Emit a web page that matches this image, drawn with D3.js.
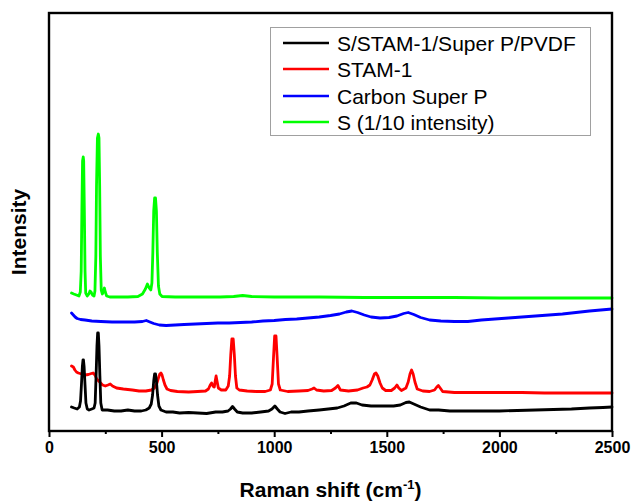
<!DOCTYPE html>
<html>
<head>
<meta charset="utf-8">
<script src="https://cdn.jsdelivr.net/npm/d3@7"></script>
<style>
  html, body { margin: 0; padding: 0; background: #fff; }
  svg { display: block; font-family: "Liberation Sans", Arial, sans-serif; }
</style>
</head>
<body>
<svg id="chart" width="632" height="502"></svg>
<script>
// Raman shift (cm-1) and intensity (a.u., offset-stacked as in the figure)
const seriesNames = ["S/STAM-1/Super P/PVDF", "STAM-1", "Carbon Super P", "S (1/10 intensity)"];
const seriesColors = ["#000000", "#ff0000", "#0000ff", "#00ff00"];

const xTicks = [0, 500, 1000, 1500, 2000, 2500];

const compositeData = [
  [100,24],[112,23],[125,22],[135,24],[140,30],[144,46],[148,64],[151,71],[153,71],[156,64],[160,46],[164,28],[170,22],
  [178,21],[190,22],[200,23],[205,28],[209,55],[213,85],[216,98],[219,98],[222,85],[226,55],[230,28],[236,21],
  [260,21],[290,20],[320,20],[350,21],[380,20],[410,20],[430,21],[445,23],[454,27],[460,36],[465,50],[469,57],[473,57],
  [477,50],[482,36],[488,25],[497,21],[520,19],[550,19],[580,18],[620,18.5],[660,18],[700,17.5],[740,19],
  [770,19],[795,20],[806,22],[815,24.5],[824,22],[836,19],[860,18],[900,18],[940,19],[975,20],[990,22],
  [1003,25],[1014,22],[1026,19],[1048,17.5],[1075,19],[1110,19],[1150,20],[1200,21],[1240,22],[1280,23],
  [1310,25],[1340,28],[1365,28],[1390,26],[1430,25],[1480,25],[1530,25],[1560,26],[1585,28.5],[1600,29],
  [1620,27],[1650,24],[1690,21],[1730,21],[1780,20],[1850,20],[1920,20],[2000,20],[2080,20.5],[2160,21],
  [2240,21.5],[2320,22],[2400,23],[2460,23.5],[2500,24]
];

const stamData = [
  [100,65],[108,64],[115,61],[122,59],[130,58],[145,57],[160,56],[175,56.5],[188,57.5],[196,58],[204,56],
  [212,52],[225,49],[238,46],[250,45],[262,46],[272,47],[282,45],[300,43],[330,42],[370,41],[400,40],
  [430,40],[455,41],[468,43],[478,47],[486,53],[492,57],[497,58],[502,56],[508,51],[515,46],[524,42],
  [540,40.5],[570,39.5],[620,39],[660,39.5],[695,40],[708,42],[716,46],[722,48],[728,45],[734,44],
  [738,50],[742,55],[746,50],[752,43],[765,41],[785,41],[796,45],[802,55],[807,76],[812,92],[818,92],[823,76],
  [828,55],[834,43],[845,41],[880,40],[920,39.5],[960,39.5],[983,41],[991,47],[997,74],[1002,95],[1008,95],
  [1013,74],[1019,47],[1027,41],[1060,39.5],[1110,40],[1150,40.5],[1168,42],[1177,43],[1188,41],
  [1220,40],[1255,40.5],[1272,43],[1283,45.5],[1294,41],[1330,40],[1370,41],[1395,43],[1412,44],
  [1425,46],[1435,51],[1445,57],[1452,58],[1460,55],[1470,48],[1480,43],[1495,40.5],[1520,40.5],
  [1535,43],[1545,46],[1553,43],[1565,40.5],[1585,43],[1595,49],[1603,57],[1610,61],[1617,57],
  [1625,49],[1635,42],[1660,40],[1690,39.5],[1712,41],[1722,44],[1729,45.5],[1737,43],[1748,39.5],
  [1800,38.5],[1900,38.5],[2000,38.5],[2100,38.5],[2200,38],[2300,38],[2400,38],[2500,38]
];

const superPData = [
  [100,118],[108,116],[116,114],[125,112.5],[140,111.5],[160,111],[190,110],[230,109.5],[280,109],
  [330,109],[380,109],[415,109.5],[432,110.5],[448,109],[465,107.5],[490,106],[520,105.5],[560,106],
  [600,106.5],[650,107],[700,107.5],[750,108],[800,108],[850,108.5],[900,109],[950,110],[1000,110.5],
  [1050,111.5],[1100,112],[1150,113],[1200,114],[1250,115.5],[1290,117],[1320,119],[1345,120],
  [1370,118.5],[1400,116],[1430,114],[1470,113],[1510,113.5],[1545,115],[1575,117.5],[1595,118.5],
  [1620,116.5],[1650,113.5],[1690,111],[1740,110],[1800,109.5],[1860,109.5],[1920,111],[1980,112],
  [2040,113],[2100,114],[2160,115],[2220,116],[2280,117],[2340,118.5],[2400,120],[2450,121],[2500,122]
];

const sulfurData = [
  [100,138],[110,137],[122,136],[133,135],[139,139],[143,160],[146,220],[149,270],[152,274],[154,270],[157,220],
  [160,160],[163,138],[170,135],[177,137],[182,140],[187,139],[193,136],[200,135],[204,140],[208,175],[211,245],
  [215,293],[219,297],[222,293],[225,245],[228,175],[232,141],[237,137],[241,139],[246,143],[250,139],[256,135],[270,134],
  [300,134],[350,134],[395,134.5],[415,137],[428,142],[437,147],[445,143],[452,141],[457,148],[461,178],
  [465,220],[469,233],[473,233],[477,220],[481,178],[486,145],[492,137],[502,134.5],[560,134],[650,134],[760,134],
  [820,134.5],[860,135.5],[900,134.5],[1000,134],[1200,134],[1400,133.5],[1600,133.5],[1800,133.5],
  [2000,133],[2200,133],[2400,133],[2500,133]
];

const allSeries = [compositeData, stamData, superPData, sulfurData];

const svg = d3.select("#chart");
const plot = {left: 49, right: 612, top: 13, bottom: 431};

const x = d3.scaleLinear().domain([0, 2500]).range([plot.left, plot.right]);
const y = d3.scaleLinear().domain([0, 418]).range([plot.bottom, plot.top]);

const line = d3.line().x(d => x(d[0])).y(d => y(d[1]));
const order = [3, 2, 1, 0];
order.forEach(i => {
  svg.append("path")
    .datum(allSeries[i])
    .attr("fill", "none")
    .attr("stroke", seriesColors[i])
    .attr("stroke-width", 2.8)
    .attr("stroke-linejoin", "round")
    .attr("stroke-linecap", "round")
    .attr("d", line);
});

// frame
svg.append("rect")
  .attr("x", plot.left).attr("y", plot.top)
  .attr("width", plot.right - plot.left).attr("height", plot.bottom - plot.top)
  .attr("fill", "none").attr("stroke", "#000").attr("stroke-width", 2.4);

// x axis (major)
const xAxis = d3.axisBottom(x).tickValues(xTicks).tickSize(6).tickPadding(5).tickFormat(d3.format("d"));
const gx = svg.append("g").attr("transform", `translate(0,${plot.bottom})`).call(xAxis);
gx.select(".domain").remove();
gx.selectAll(".tick line").attr("stroke", "#000").attr("stroke-width", 2);
gx.selectAll(".tick text")
  .attr("font-family", "'Liberation Sans', Arial, sans-serif")
  .attr("font-size", 16).attr("font-weight", "bold").attr("fill", "#000");

// x axis (minor)
const minorTicks = d3.range(250, 2500, 500);
const gxm = svg.append("g").attr("transform", `translate(0,${plot.bottom})`)
  .call(d3.axisBottom(x).tickValues(minorTicks).tickSize(3).tickFormat(""));
gxm.select(".domain").remove();
gxm.selectAll(".tick line").attr("stroke", "#000").attr("stroke-width", 2);

// axis titles
const xt = svg.append("text")
  .attr("x", (plot.left + plot.right) / 2)
  .attr("y", 497)
  .attr("text-anchor", "middle")
  .attr("font-size", 21).attr("font-weight", "bold").attr("fill", "#000");
xt.append("tspan").text("Raman shift (cm");
xt.append("tspan").text("-1").attr("font-size", 13).attr("dy", -8);
xt.append("tspan").text(")").attr("dy", 8);

svg.append("text")
  .attr("transform", `translate(26,${(plot.top + plot.bottom) / 2 + 10}) rotate(-90)`)
  .attr("text-anchor", "middle")
  .attr("font-size", 21).attr("font-weight", "bold").attr("fill", "#000")
  .text("Intensity");

// legend
const lg = svg.append("g");
lg.append("rect")
  .attr("x", 270.5).attr("y", 27.5).attr("width", 320).attr("height", 108)
  .attr("fill", "#fff").attr("stroke", "#a0a0a0").attr("stroke-width", 1);
const rowY = [43, 69, 96, 122];
seriesNames.forEach((name, i) => {
  lg.append("line")
    .attr("x1", 283).attr("x2", 329).attr("y1", rowY[i]).attr("y2", rowY[i])
    .attr("stroke", seriesColors[i]).attr("stroke-width", 2.6);
  lg.append("text")
    .attr("x", 337).attr("y", rowY[i] + 7.5)
    .attr("font-size", 21).attr("fill", "#000")
    .text(name);
});
</script>
</body>
</html>
